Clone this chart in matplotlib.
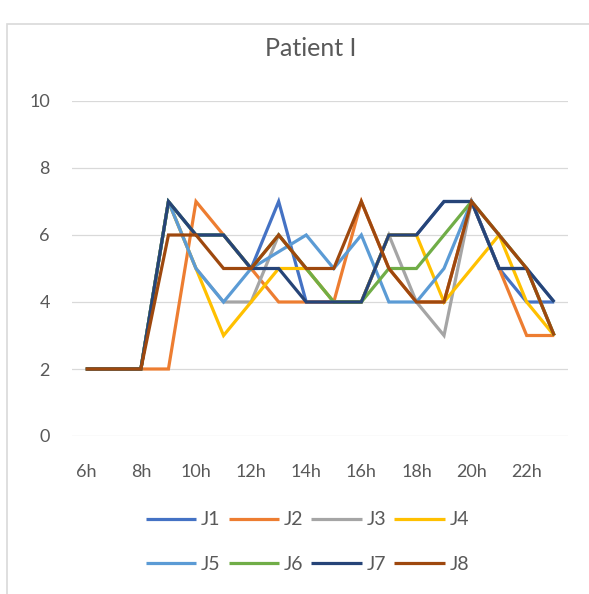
import matplotlib.pyplot as plt
from matplotlib.patches import Rectangle

# hours of the day, 6h .. 23h
hours = list(range(6, 24))
tick_hours = [6, 8, 10, 12, 14, 16, 18, 20, 22]
tick_labels = ['6h', '8h', '10h', '12h', '14h', '16h', '18h', '20h', '22h']

# scores per series
j1 = [2, 2, 2, 7, 6, 6, 5, 7, 4, 4, 4, 6, 6, 7, 7, 5, 4, 4]
j2 = [2, 2, 2, 2, 7, 6, 5, 4, 4, 4, 7, 5, 4, 4, 7, 5, 3, 3]
j3 = [2, 2, 2, 7, 5, 4, 4, 6, 5, 4, 4, 6, 4, 3, 7, 6, 5, 3]
j4 = [2, 2, 2, 7, 5, 3, 4, 5, 5, 4, 4, 6, 6, 4, 5, 6, 4, 3]
j5 = [2, 2, 2, 7, 5, 4, 5, 5.5, 6, 5, 6, 4, 4, 5, 7, 5, 5, 4]
j6 = [2, 2, 2, 7, 6, 6, 5, 6, 5, 4, 4, 5, 5, 6, 7, 6, 5, 3]
j7 = [2, 2, 2, 7, 6, 6, 5, 5, 4, 4, 4, 6, 6, 7, 7, 5, 5, 4]
j8 = [2, 2, 2, 6, 6, 5, 5, 6, 5, 5, 7, 5, 4, 4, 7, 6, 5, 3]

series = [j1, j2, j3, j4, j5, j6, j7, j8]
names = ['J1', 'J2', 'J3', 'J4', 'J5', 'J6', 'J7', 'J8']
colors = ['#4472C4', '#ED7D31', '#A5A5A5', '#FFC000',
          '#5B9BD5', '#70AD47', '#264478', '#9E480E']

plt.rcParams['font.family'] = ['Lato', 'DejaVu Sans']
text_color = '#595959'

fig = plt.figure(figsize=(5.89, 5.94), dpi=100)
ax = fig.add_axes([72 / 589, 1 - 436 / 594, 496 / 589, 335 / 594])

lines = []
for vals, name, col in zip(series, names, colors):
    ln, = ax.plot(hours, vals, color=col, linewidth=2.3, label=name,
                  solid_joinstyle='miter', solid_capstyle='butt')
    lines.append(ln)

ax.set_xlim(5.5, 23.5)
ax.set_ylim(0, 10)
ax.set_yticks([0, 2, 4, 6, 8, 10])
ax.set_xticks(tick_hours)
ax.set_xticklabels(tick_labels)
ax.tick_params(length=0, labelsize=13, labelcolor=text_color)
ax.tick_params(axis='x', pad=20)
ax.tick_params(axis='y', pad=16)
ax.grid(axis='y', color='#D9D9D9', linewidth=0.9)
ax.set_axisbelow(True)
for s in ax.spines.values():
    s.set_visible(False)

fig.text(0.527, 1 - 48 / 594, 'Patient I', ha='center', va='center',
         fontsize=18, color=text_color)

# legend filled row by row (matplotlib fills columns first)
order = [0, 4, 1, 5, 2, 6, 3, 7]
leg = fig.legend([lines[i] for i in order], [names[i] for i in order],
                 loc='center', bbox_to_anchor=(0.522, 1 - 542 / 594), ncol=4,
                 frameon=False, fontsize=14, handlelength=2.6,
                 handletextpad=0.25, columnspacing=0.4, labelspacing=1.4)
for t in leg.get_texts():
    t.set_color(text_color)

# light chart-area border
fig.add_artist(Rectangle((7 / 589, -0.1), 1.2, 1.08 - 12 / 594,
                         transform=fig.transFigure, fill=False,
                         edgecolor='#D9D9D9', linewidth=1.2))

fig.savefig('out.png', dpi=100)
